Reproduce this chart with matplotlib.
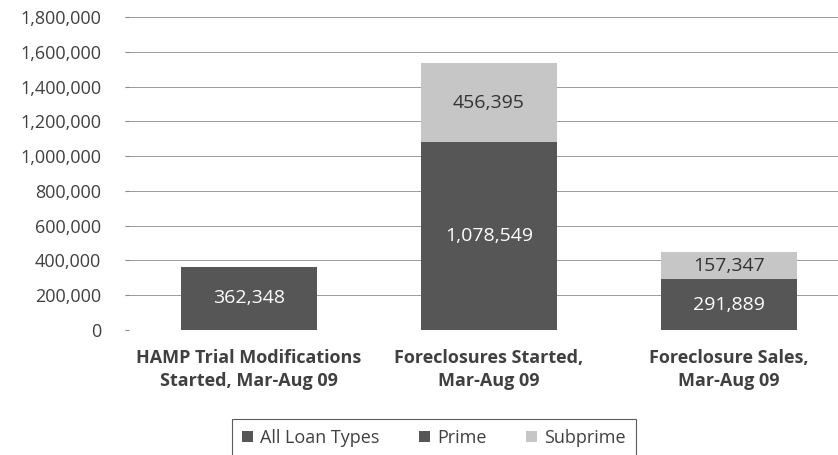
import numpy as np
import matplotlib.pyplot as plt
from matplotlib.ticker import FuncFormatter

plt.rcParams['font.family'] = ['Open Sans', 'DejaVu Sans']

categories = ["HAMP Trial Modifications\nStarted, Mar-Aug 09",
              "Foreclosures Started,\nMar-Aug 09",
              "Foreclosure Sales,\nMar-Aug 09"]
all_loans = [362348, 0, 0]
prime = [0, 1078549, 291889]
subprime = [0, 456395, 157347]

dark = '#565656'
light = '#c6c6c6'
txt = '#404040'

fig = plt.figure(figsize=(8.38, 4.55), dpi=100)
ax = fig.add_axes([129 / 838, 1 - 330 / 455, 1 - 129 / 838, 313 / 455])

x = np.arange(len(categories))
w = 0.57
ax.bar(x, all_loans, w, color=dark, label='All Loan Types', zorder=3)
ax.bar(x, prime, w, color=dark, label='Prime', zorder=3)
ax.bar(x, subprime, w, bottom=prime, color=light, label='Subprime', zorder=3)

for i in range(len(x)):
    if all_loans[i]:
        ax.text(x[i], all_loans[i] / 2, format(all_loans[i], ','), ha='center', va='center',
                color='white', fontsize=14, zorder=4)
    if prime[i]:
        ax.text(x[i], prime[i] / 2, format(prime[i], ','), ha='center', va='center',
                color='white', fontsize=14, zorder=4)
    if subprime[i]:
        ax.text(x[i], prime[i] + subprime[i] / 2, format(subprime[i], ','), ha='center',
                va='center', color='#333333', fontsize=14, zorder=4)

ax.set_xlim(-0.5, -0.5 + 709 / 240)
ax.set_ylim(0, 1800000)
ax.set_yticks(np.arange(0, 1800001, 200000))
ax.yaxis.set_major_formatter(FuncFormatter(lambda v, p: format(int(v), ',')))
ax.grid(axis='y', color='#9a9a9a', linewidth=0.7, zorder=0)
for s in ax.spines.values():
    s.set_visible(False)
ax.tick_params(axis='y', length=3, color='#888888', labelsize=13, labelcolor=txt, pad=17)
ax.tick_params(axis='x', length=0, pad=14)
ax.set_xticks(x)
ax.set_xticklabels(categories, fontsize=13, fontweight='bold', color=txt, linespacing=1.35)

leg = fig.legend(loc='center', bbox_to_anchor=(434 / 838, 1 - 438 / 455), ncol=3,
                 frameon=True, fancybox=False, edgecolor='#333333', fontsize=13,
                 handlelength=0.6, handleheight=0.6, handletextpad=0.4, columnspacing=2.2,
                 borderpad=0.55)
leg.get_frame().set_linewidth(0.8)
for t in leg.get_texts():
    t.set_color(txt)

fig.savefig('out.png', dpi=100)
